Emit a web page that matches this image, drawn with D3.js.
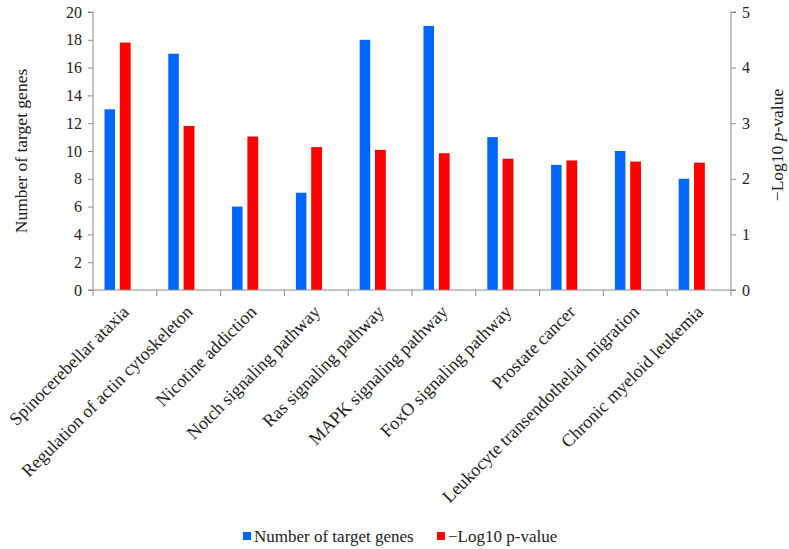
<!DOCTYPE html>
<html lang="en">
<head>
<meta charset="UTF-8">
<title>Target genes by pathway</title>
<style>
    body { margin: 0; padding: 0; background: #fff; overflow: hidden; }
    svg text { font-family: "Liberation Serif", "Times New Roman", serif; fill: #222; }
    .axis path, .axis line { stroke: #8c8c8c; }
    .axis text { font-size: 16px; }
</style>
</head>
<body>
<svg id="chart" width="789" height="549"></svg>
<script src="https://d3js.org/d3.v7.min.js"></script>
<script>
    const categories = [
        "Spinocerebellar ataxia", "Regulation of actin cytoskeleton", "Nicotine addiction",
        "Notch signaling pathway", "Ras signaling pathway", "MAPK signaling pathway",
        "FoxO signaling pathway", "Prostate cancer", "Leukocyte transendothelial migration",
        "Chronic myeloid leukemia"
    ];
    const geneCounts = [13, 17, 6, 7, 18, 19, 11, 9, 10, 8];
    const logP = [4.45, 2.95, 2.76, 2.57, 2.52, 2.46, 2.36, 2.33, 2.31, 2.29];
    const leftTicks = [0, 2, 4, 6, 8, 10, 12, 14, 16, 18, 20];
    const rightTicks = [0, 1, 2, 3, 4, 5];

    const margin = {top: 12, right: 58, bottom: 259, left: 93};
    const width = 789 - margin.left - margin.right;
    const height = 549 - margin.top - margin.bottom;

    const svg = d3.select("#chart")
      .append("g")
        .attr("transform", `translate(${margin.left},${margin.top})`);

    const x = d3.scaleBand().domain(categories).range([0, width]);
    const yLeft = d3.scaleLinear().domain([0, 20]).range([height, 0]);
    const yRight = d3.scaleLinear().domain([0, 5]).range([height, 0]);
    const bw = x.bandwidth();

    // bars (Excel-style placement, group sits a bit left of band centre)
    svg.selectAll(".bar-genes")
        .data(categories)
      .enter().append("rect")
        .attr("class", "bar-genes")
        .attr("x", d => x(d) + bw * 0.18)
        .attr("width", bw * 0.165)
        .attr("y", (d, i) => yLeft(geneCounts[i]))
        .attr("height", (d, i) => height - yLeft(geneCounts[i]))
        .attr("fill", "#0066ff");

    svg.selectAll(".bar-p")
        .data(categories)
      .enter().append("rect")
        .attr("class", "bar-p")
        .attr("x", d => x(d) + bw * 0.42)
        .attr("width", bw * 0.17)
        .attr("y", (d, i) => yRight(logP[i]))
        .attr("height", (d, i) => height - yRight(logP[i]))
        .attr("fill", "#ff0000");

    const serif = "'Liberation Serif', 'Times New Roman', serif";

    // left axis
    svg.append("g")
        .attr("class", "axis")
        .call(d3.axisLeft(yLeft).tickValues(leftTicks).tickSize(5).tickPadding(6))
        .attr("font-family", serif)
        .call(g => g.select(".domain").attr("d", `M-5,0H0V${height}H-5`));

    // right axis
    svg.append("g")
        .attr("class", "axis")
        .attr("transform", `translate(${width},0)`)
        .call(d3.axisRight(yRight).tickValues(rightTicks).tickFormat(d3.format("d"))
            .tickSize(5).tickPadding(6))
        .attr("font-family", serif)
        .call(g => g.select(".domain").attr("d", `M5,0H0V${height}H5`));

    // x axis with ticks at band edges
    const xAxis = svg.append("g")
        .attr("class", "axis")
        .attr("transform", `translate(0,${height})`);
    xAxis.append("line")
        .attr("x1", 0).attr("x2", width)
        .attr("stroke", "#8c8c8c");
    xAxis.selectAll(".edge")
        .data(categories.concat([null]))
      .enter().append("line")
        .attr("class", "edge")
        .attr("x1", (d, i) => i * bw).attr("x2", (d, i) => i * bw)
        .attr("y1", 0).attr("y2", 6)
        .attr("stroke", "#8c8c8c");
    xAxis.selectAll(".cat")
        .data(categories)
      .enter().append("text")
        .attr("class", "cat")
        .attr("text-anchor", "end")
        .style("font-size", "18px")
        .attr("transform", d => `translate(${x(d) + bw / 2 + 5},${23}) rotate(-45)`)
        .text(d => d);

    // axis titles
    svg.append("text")
        .attr("transform", `translate(${-66},${height / 2}) rotate(-90)`)
        .attr("text-anchor", "middle")
        .attr("font-size", 17.5)
        .text("Number of target genes");

    const rt = svg.append("text")
        .attr("transform", `translate(${width + 52},${height / 2 - 6}) rotate(-90)`)
        .attr("text-anchor", "middle")
        .attr("font-size", 17.5);
    rt.append("tspan").text("\u2212Log10 ");
    rt.append("tspan").attr("font-style", "italic").text("p");
    rt.append("tspan").text("-value");

    // legend
    const legendItems = [
        {label: "Number of target genes", color: "#0066ff", x: 243},
        {label: "\u2212Log10 p-value", color: "#ff0000", x: 437}
    ];
    const legend = d3.select("#chart").append("g");
    const li = legend.selectAll("g")
        .data(legendItems)
      .enter().append("g")
        .attr("transform", d => `translate(${d.x},536)`);
    li.append("rect")
        .attr("x", 0).attr("y", -4)
        .attr("width", 8).attr("height", 8)
        .attr("fill", d => d.color);
    li.append("text")
        .attr("x", 11).attr("y", 5.5)
        .attr("font-size", 17)
        .text(d => d.label);
</script>
</body>
</html>
